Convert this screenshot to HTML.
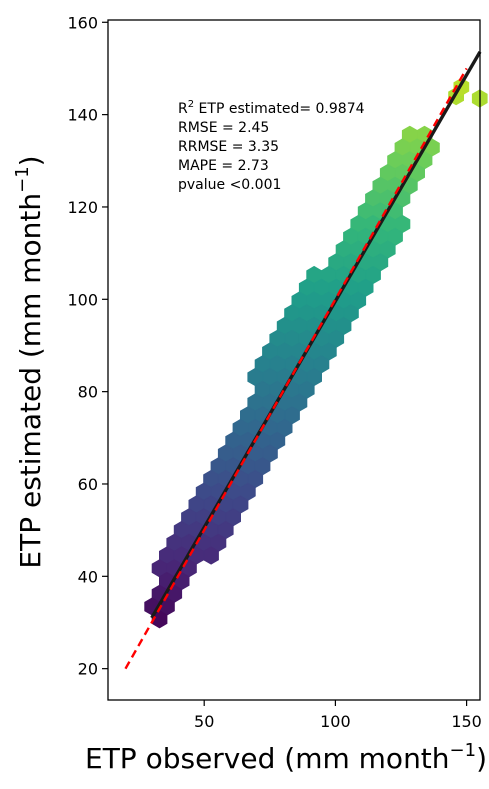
<!DOCTYPE html>
<html><head><meta charset="utf-8"><style>
html,body{margin:0;padding:0;background:#fff;}
svg{display:block;font-family:"DejaVu Sans","Liberation Sans",sans-serif;}
</style></head><body>
<svg id="chart" width="489" height="789" viewBox="0 0 489 789">
<g id="hexes"></g>
<g id="lines"></g>
<rect x="108" y="20" width="372" height="680" fill="none" stroke="#000" stroke-width="1.3"/>
<g id="axes"></g>
<g font-size="14" fill="#000">
<text x="178" y="113">R<tspan font-size="10" dy="-6">2</tspan><tspan dy="6"> ETP estimated= 0.9874</tspan></text>
<text x="178" y="132">RMSE = 2.45</text>
<text x="178" y="151">RRMSE = 3.35</text>
<text x="178" y="170">MAPE = 2.73</text>
<text x="178" y="189">pvalue &lt;0.001</text>
</g>
<text x="85" y="768" font-size="28">ETP observed (mm month<tspan font-size="18" dy="-12">−1</tspan><tspan dy="12">)</tspan></text>
<text transform="translate(40,362) rotate(-90)" text-anchor="middle" font-size="28">ETP estimated (mm month<tspan font-size="18" dy="-12">−1</tspan><tspan dy="12">)</tspan></text>
</svg>
<script>
const xTicks=[50,100,150];
const yTicks=[20,40,60,80,100,120,140,160];
const bandX=[28,32,40,50,60,70,80,90,100,110,120,128,135,138];
const bandLow=[30,29,34,42,51,61,71,81,90,100,110,119,127,130];
const bandHigh=[36,41,52,61,71,84,94,104,112,121,130,137,137,136];
const outX=[146,148,155];
const outY=[144,146,143.5];
const fitSlope=0.98, fitIntercept=1.6;
const x=v=>73+v*2.624;
const y=v=>761-v*4.617;
const ns="http://www.w3.org/2000/svg";
const vir=["#440154","#482878","#3e4989","#31688e","#26828e","#1f9e89","#35b779","#6ece58","#b5de2b","#fde725"];
function col(v){let t=Math.max(0,Math.min(1,(v-28)/(160-28)));let i=t*(vir.length-1),a=Math.floor(i),b=Math.min(a+1,vir.length-1),f=i-a;
const h=s=>[1,3,5].map(k=>parseInt(s.substr(k,2),16));const A=h(vir[a]),B=h(vir[b]);return `rgb(${A.map((c,j)=>Math.round(c+(B[j]-c)*f)).join(',')})`;}
function interp(xs,ys,v){if(v<xs[0]||v>xs[xs.length-1])return null;for(let i=0;i<xs.length-1;i++){if(v<=xs[i+1]){const f=(v-xs[i])/(xs[i+1]-xs[i]);return ys[i]+(ys[i+1]-ys[i])*f;}}return ys[ys.length-1];}
const hg=document.getElementById('hexes');
const r=8.5;
function hex(cx,cy,val){const p=document.createElementNS(ns,'polygon');let pts=[];for(let k=0;k<6;k++){const a=Math.PI/180*(60*k+30);pts.push((cx+r*Math.cos(a)).toFixed(1)+','+(cy+r*Math.sin(a)).toFixed(1));}
p.setAttribute('points',pts.join(' '));p.setAttribute('fill',col(val));p.setAttribute('stroke',col(val));p.setAttribute('stroke-width','1');


hg.appendChild(p);}
const dx=r*Math.sqrt(3),dy=r*1.5;
for(let row=0;row*dy<700;row++){const py=20+row*dy;for(let px=108+(row%2?dx/2:0);px<480;px+=dx){
const vx=(px-73)/2.624,vy=(761-py)/4.617;const lo=interp(bandX,bandLow,vx),hi=interp(bandX,bandHigh,vx);
if(lo!==null&&vy>=lo&&vy<=hi)hex(px,py,vy);}}
for(let i=0;i<outX.length;i++)hex(x(outX[i]),y(outY[i]),outY[i]);
const lg=document.getElementById('lines');
function line(x1,y1,x2,y2,st,w,dash,name){const l=document.createElementNS(ns,'line');l.setAttribute('x1',x1);l.setAttribute('y1',y1);l.setAttribute('x2',x2);l.setAttribute('y2',y2);l.setAttribute('stroke',st);l.setAttribute('stroke-width',w);if(dash)l.setAttribute('stroke-dasharray',dash);


lg.appendChild(l);}
line(x(30),y(30*fitSlope+fitIntercept),480,y(((480-73)/2.624)*fitSlope+fitIntercept),'#1a1a1a',3.4,null,'regression-line');
line(x(20),y(20),x(150),y(150),'#ff0000',2.4,'8,5','one-to-one-line');
const ag=document.getElementById('axes');
xTicks.forEach(v=>{line(x(v),700,x(v),706,'#000',1.2,null,'x-tick');
const t=document.createElementNS(ns,'text');t.setAttribute('x',x(v));t.setAttribute('y',727);t.setAttribute('text-anchor','middle');t.setAttribute('font-size','16');t.textContent=v;


ag.appendChild(t);});
yTicks.forEach(v=>{line(102,y(v),108,y(v),'#000',1.2,null,'y-tick');
const t=document.createElementNS(ns,'text');t.setAttribute('x',98);t.setAttribute('y',y(v)+6);t.setAttribute('text-anchor','end');t.setAttribute('font-size','16');t.textContent=v;


ag.appendChild(t);});
</script>
</body></html>
